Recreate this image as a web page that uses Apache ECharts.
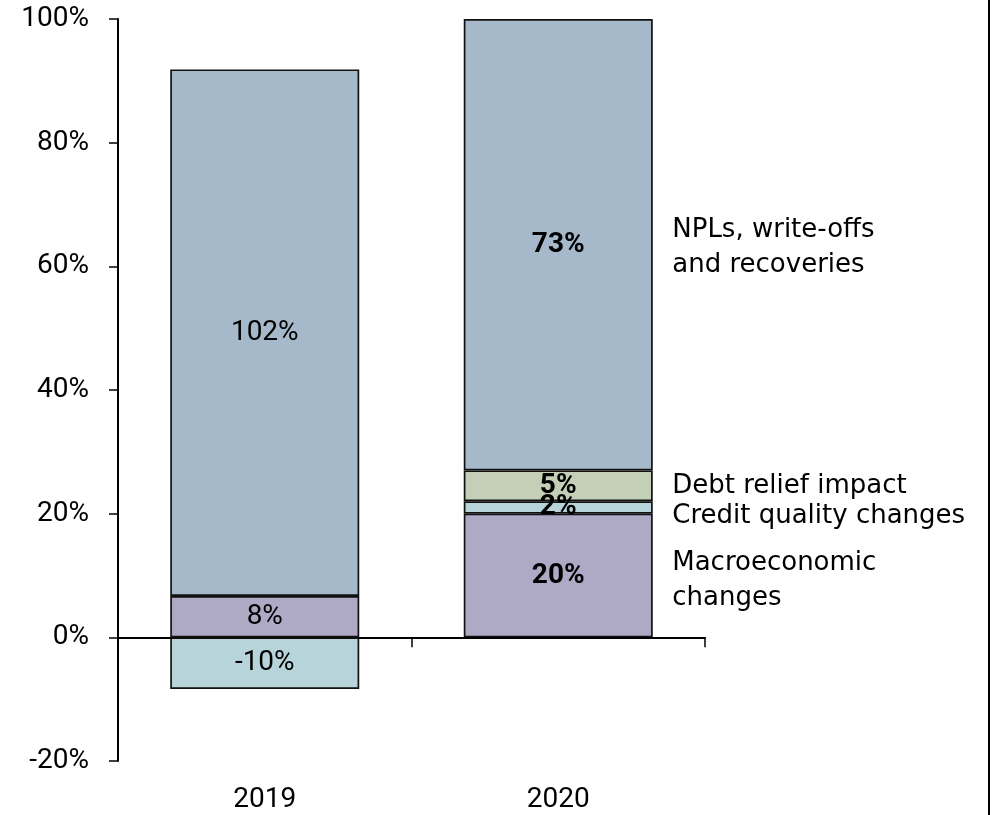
<!DOCTYPE html>
<html>
<head>
<meta charset="utf-8">
<script src="https://cdn.jsdelivr.net/npm/echarts@6/dist/echarts.min.js"></script>
<style>
  html, body { margin: 0; padding: 0; background: #fff; }
  #chart { width: 993px; height: 815px; }
</style>
</head>
<body>
<div id="chart"></div>
<script>
// Years on the category axis
const categories = ['2019', '2020'];

// Share of each year's impairment charge by driver, in %
const macroShare = [8, 20];
const creditShare = [-10, 2];
const reliefShare = [null, 5];
const nplShare = [102, 73];

// Size of each year's total charge (2020 = 100)
const chargeSize = [83.5, 100];

// Names shown beside the 2020 column
const driverNames = {
  npl: 'NPLs, write-offs\nand recoveries',
  relief: 'Debt relief impact',
  credit: 'Credit quality changes',
  macro: 'Macroeconomic\nchanges'
};

// Value axis range
const yMin = -20;
const yMax = 100;
const yStep = 20;

const INK = '#000';
const NUM_FONT = "Roboto, 'Liberation Sans', sans-serif";
const TEXT_FONT = "'DejaVu Sans', sans-serif";
const NUM_SIZE = 28;

const colors = {
  macro: '#aea9c5',
  credit: '#b6d4d9',
  relief: '#c3cfb6',
  npl: '#a6b9ca'
};

// Bar value = share of the year's charge scaled by the size of that charge
function toBars(shares) {
  return shares.map((s, i) => {
    if (s == null) return null;
    return {
      value: s * chargeSize[i] / 100,
      share: s,
      label: { fontWeight: i === 1 ? 'bold' : 'normal' }
    };
  });
}

function barSeries(name, key, shares) {
  return {
    name: name,
    type: 'bar',
    stack: 'charge',
    xAxisIndex: 0,
    barWidth: '64.4%',
    data: toBars(shares),
    itemStyle: { color: colors[key], borderColor: '#111', borderWidth: 1.7 },
    label: {
      show: true,
      position: 'inside',
      formatter: p => p.data.share + '%',
      fontFamily: NUM_FONT,
      fontSize: NUM_SIZE,
      color: INK,
      textBorderWidth: 0
    },
    emphasis: { disabled: true }
  };
}

// Midpoints of the 2020 segments, used to place the driver names
const i20 = 1;
const macroTop = macroShare[i20] * chargeSize[i20] / 100;
const creditTop = macroTop + creditShare[i20] * chargeSize[i20] / 100;
const reliefTop = creditTop + reliefShare[i20] * chargeSize[i20] / 100;
const nplTop = reliefTop + nplShare[i20] * chargeSize[i20] / 100;

const sideLabels = [
  { value: ['2020', (reliefTop + nplTop) / 2], name: driverNames.npl, label: { offset: [0, 3] } },
  { value: ['2020', (creditTop + reliefTop) / 2], name: driverNames.relief, label: { offset: [0, 0] } },
  { value: ['2020', (macroTop + creditTop) / 2], name: driverNames.credit, label: { offset: [0, 9] } },
  { value: ['2020', macroTop / 2], name: driverNames.macro, label: { offset: [0, 5] } }
];

const chart = echarts.init(document.getElementById('chart'), null, { renderer: 'canvas' });

chart.setOption({
  animation: false,
  backgroundColor: '#fff',
  grid: { left: 118, right: 288, top: 19, bottom: 54, containLabel: false, outerBoundsMode: 'none' },
  xAxis: [
    {
      type: 'category',
      data: categories,
      position: 'bottom',
      axisLine: { show: false, onZero: false },
      axisTick: { show: false },
      splitLine: { show: false },
      axisLabel: { margin: 25, fontFamily: NUM_FONT, fontSize: NUM_SIZE, color: INK }
    },
    {
      type: 'category',
      data: categories,
      position: 'bottom',
      axisLine: { show: true, onZero: true, lineStyle: { color: INK, width: 2 } },
      axisTick: { show: true, length: 10, lineStyle: { color: INK, width: 1.5 } },
      axisLabel: { show: false },
      splitLine: { show: false }
    }
  ],
  yAxis: {
    type: 'value',
    min: yMin,
    max: yMax,
    interval: yStep,
    axisLine: { show: true, onZero: false, lineStyle: { color: INK, width: 2 } },
    axisTick: { show: true, length: 9, lineStyle: { color: INK, width: 1.5 } },
    splitLine: { show: false },
    axisLabel: {
      formatter: '{value}%',
      margin: 29,
      fontFamily: NUM_FONT,
      fontSize: NUM_SIZE,
      color: INK
    }
  },
  series: [
    barSeries('Macroeconomic changes', 'macro', macroShare),
    barSeries('Credit quality changes', 'credit', creditShare),
    barSeries('Debt relief impact', 'relief', reliefShare),
    barSeries('NPLs, write-offs and recoveries', 'npl', nplShare),
    {
      type: 'scatter',
      xAxisIndex: 0,
      symbolSize: 0,
      silent: true,
      itemStyle: { opacity: 1 },
      data: sideLabels,
      label: {
        show: true,
        position: 'right',
        distance: 114,
        align: 'left',
        formatter: p => p.name,
        fontFamily: TEXT_FONT,
        fontSize: 26,
        lineHeight: 35,
        color: INK,
        opacity: 1,
        textBorderWidth: 0
      },
      emphasis: { disabled: true }
    }
  ],
  graphic: [
    {
      type: 'rect',
      right: 3,
      top: 0,
      shape: { width: 2, height: 815 },
      style: { fill: INK },
      silent: true
    }
  ]
});
</script>
</body>
</html>
